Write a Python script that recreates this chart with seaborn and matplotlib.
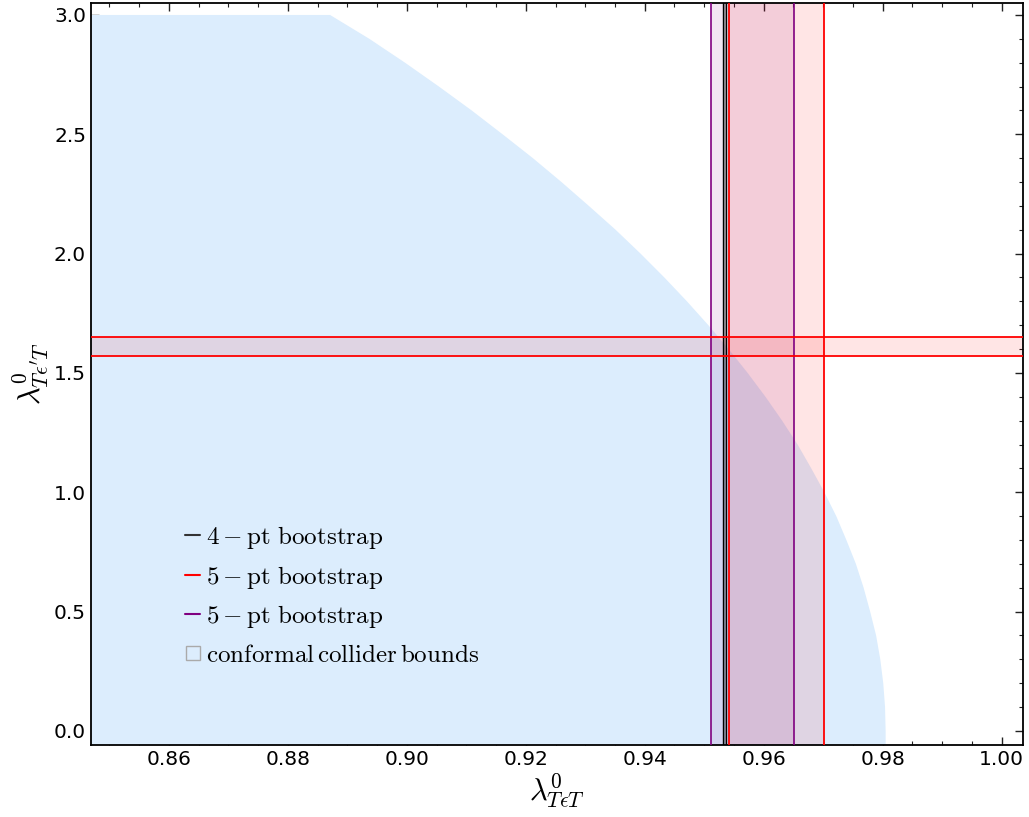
import numpy as np
import matplotlib
matplotlib.use("Agg")
import matplotlib.pyplot as plt
from matplotlib.lines import Line2D
import seaborn as sns

# conformal collider boundary
bound_y = [-0.1, 0.0, 0.1, 0.2, 0.3, 0.4, 0.5, 0.6, 0.7, 0.8, 0.9, 1.0, 1.1, 1.2, 1.3,
           1.4, 1.5, 1.6, 1.7, 1.8, 1.9, 2.0, 2.1, 2.2, 2.3, 2.4, 2.5, 2.6, 2.7, 2.8,
           2.9, 3.0]
bound_x = [0.9805, 0.9805, 0.9804, 0.9801, 0.9796, 0.9789, 0.9779, 0.9768, 0.9755,
           0.9739, 0.9722, 0.9702, 0.9680, 0.9657, 0.9631, 0.9603, 0.9573, 0.9541,
           0.9507, 0.9471, 0.9433, 0.9393, 0.9351, 0.9306, 0.9260, 0.9212, 0.9161,
           0.9109, 0.9054, 0.8997, 0.8937, 0.8871]

# bootstrap intervals
pt4_x = [0.9531, 0.9536]        # 4-pt bootstrap, lambda_TeT
pt5_red_x = [0.9541, 0.9701]    # 5-pt bootstrap (red)
pt5_pur_x = [0.9511, 0.9651]    # 5-pt bootstrap (purple)
pt5_red_y = [1.571, 1.650]      # lambda_Te'T band

labels = [r"$4-\mathrm{pt\ bootstrap}$", r"$5-\mathrm{pt\ bootstrap}$",
          r"$5-\mathrm{pt\ bootstrap}$", r"$\mathrm{conformal\,collider\,bounds}$"]

sns.set_style("ticks")
plt.rcParams["mathtext.fontset"] = "cm"
plt.rcParams["font.family"] = ["DejaVu Sans"]
plt.rcParams["text.color"] = "black"
plt.rcParams["axes.labelcolor"] = "black"

fig = plt.figure(figsize=(10.29, 8.17), dpi=100)
ax = fig.add_axes([0.0884, 0.0881, 0.9058, 0.9082])

blue = "#dcedfd"
ax.fill_betweenx(bound_y, 0.80, bound_x, color=blue, lw=0, zorder=1)

# vertical bands
ax.axvspan(pt5_pur_x[0], pt5_pur_x[1], color="purple", alpha=0.1, lw=0, zorder=2)
ax.axvspan(pt5_red_x[0], pt5_red_x[1], color="red", alpha=0.1, lw=0, zorder=2)
ax.axvspan(pt4_x[0], pt4_x[1], color="black", alpha=0.3, lw=0, zorder=2)
ax.axhspan(pt5_red_y[0], pt5_red_y[1], color="red", alpha=0.1, lw=0, zorder=2)

for v in pt5_pur_x:
    ax.axvline(v, color="purple", lw=1.2, zorder=3)
for v in pt4_x:
    ax.axvline(v, color="black", lw=1.0, zorder=3)
for v in pt5_red_x:
    ax.axvline(v, color="red", lw=1.3, zorder=3)
for v in pt5_red_y:
    ax.axhline(v, color="red", lw=1.3, zorder=3)

ax.set_xlim(0.8469, 1.0036)
ax.set_ylim(-0.059, 3.05)
ax.set_xticks(np.arange(0.86, 1.001, 0.02))
ax.set_yticks(np.arange(0.0, 3.01, 0.5))
ax.set_xticks(np.arange(0.85, 1.0036, 0.005), minor=True)
ax.set_yticks(np.arange(0.0, 3.05, 0.1), minor=True)
ax.xaxis.set_major_formatter(matplotlib.ticker.FormatStrFormatter("%.2f"))
ax.yaxis.set_major_formatter(matplotlib.ticker.FormatStrFormatter("%.1f"))
ax.tick_params(which="both", direction="in", top=True, right=True, labelsize=14.5,
               color="#222222", labelcolor="black")
ax.tick_params(which="major", length=6, width=1.0)
ax.tick_params(which="minor", length=3, width=0.8)
for s in ax.spines.values():
    s.set_linewidth(1.3)
    s.set_color("black")

ax.set_xlabel(r"$\lambda^0_{T\epsilon T}$", fontsize=22, labelpad=2)
ax.set_ylabel(r"$\lambda^0_{T\epsilon' T}$", fontsize=22, labelpad=2)

handles = [Line2D([], [], color="#333333", lw=1.5),
           Line2D([], [], color="red", lw=1.5),
           Line2D([], [], color="purple", lw=1.5),
           Line2D([], [], ls="none", marker="s", markersize=10, markerfacecolor="none",
                  markeredgecolor="#aaaaaa", markeredgewidth=1.0)]
leg = ax.legend(handles, labels, loc="upper left", bbox_to_anchor=(0.077, 0.328),
                frameon=False, fontsize=18, handlelength=0.6, handletextpad=0.25,
                labelspacing=0.5)

fig.savefig("out.png", dpi=100)
